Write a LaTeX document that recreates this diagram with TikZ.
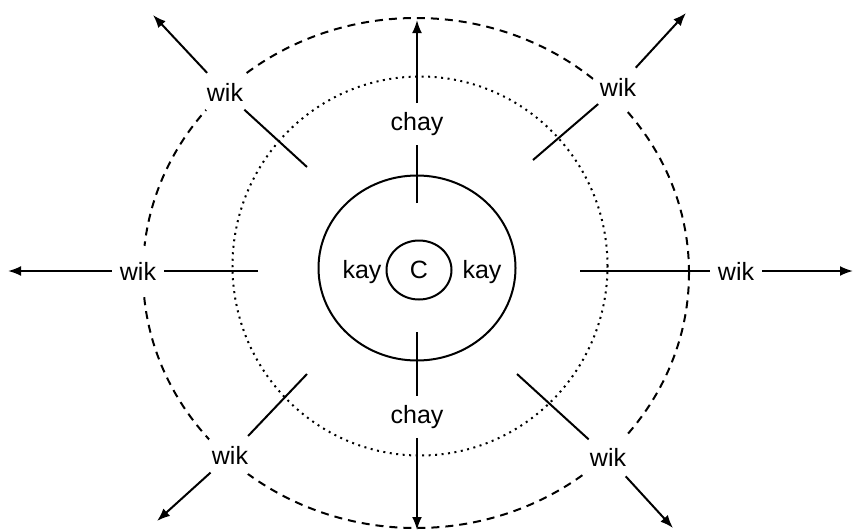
\documentclass[tikz,border=0pt]{standalone}
\usepackage{fontspec}
\setmainfont{Liberation Sans}
\usetikzlibrary{arrows.meta,shapes.geometric}
\begin{document}
\begin{tikzpicture}[x=1pt,y=-1pt,
  lbl/.style={font=\fontsize{25}{27}\selectfont, inner sep=0pt},
  wiklbl/.style={lbl, circle, minimum size=52pt, fill=white},
  chaylbl/.style={lbl, inner xsep=4pt, inner ysep=9pt},
  seg/.style={line width=2pt},
  arr/.style={seg, -{Latex[length=13pt,width=10pt]}},
  ring/.style={line width=2pt}]
\useasboundingbox (0,0) rectangle (853,531);
% rings
\draw[ring] (417,268) ellipse [x radius=98.5pt, y radius=92.5pt];
\draw[ring, line width=2pt, dash pattern=on 2pt off 4.5pt] (420,266) ellipse [x radius=187.5pt, y radius=189.5pt];
\draw[ring, dash pattern=on 8pt off 6pt] (416,273) ellipse [x radius=273pt, y radius=255pt];
% centre
\node[lbl, ellipse, draw, line width=2pt, minimum width=65pt, minimum height=59pt] (c) at (419,270) {C};
\node[lbl] (kl) at (362,272) {kay};
\node[lbl] (kr) at (482,272) {kay};
% coordinates
\coordinate (i1) at (307,167); \coordinate (t1) at (153,15);
\coordinate (i2) at (533,160); \coordinate (t2) at (686,13);
\coordinate (i3) at (307,374); \coordinate (t3) at (157,521);
\coordinate (i4) at (517,374); \coordinate (t4) at (673,528);
\coordinate (i5) at (258,271); \coordinate (t5) at (8,271);
\coordinate (i6) at (580,271); \coordinate (t6) at (853,271);
\coordinate (i7) at (417,203); \coordinate (t7) at (417,20);
\coordinate (i8) at (417,332); \coordinate (t8) at (417,530);
% labels
\node[wiklbl] (w1) at (225,92) {wik};
\node[wiklbl] (w2) at (618,87) {wik};
\node[wiklbl] (w3) at (230,455) {wik};
\node[wiklbl] (w4) at (608,457) {wik};
\node[wiklbl] (w5) at (138,271) {wik};
\node[wiklbl] (w6) at (736,271) {wik};
\node[chaylbl] (h1) at (417,124) {chay};
\node[chaylbl] (h2) at (417,417) {chay};
% connectors
\foreach \k/\w in {1/w1,2/w2,3/w3,4/w4,5/w5,6/w6,7/h1,8/h2}{
  \draw[seg] (i\k) -- (\w);
  \draw[arr] (\w) -- (t\k);
}
\end{tikzpicture}
\end{document}
